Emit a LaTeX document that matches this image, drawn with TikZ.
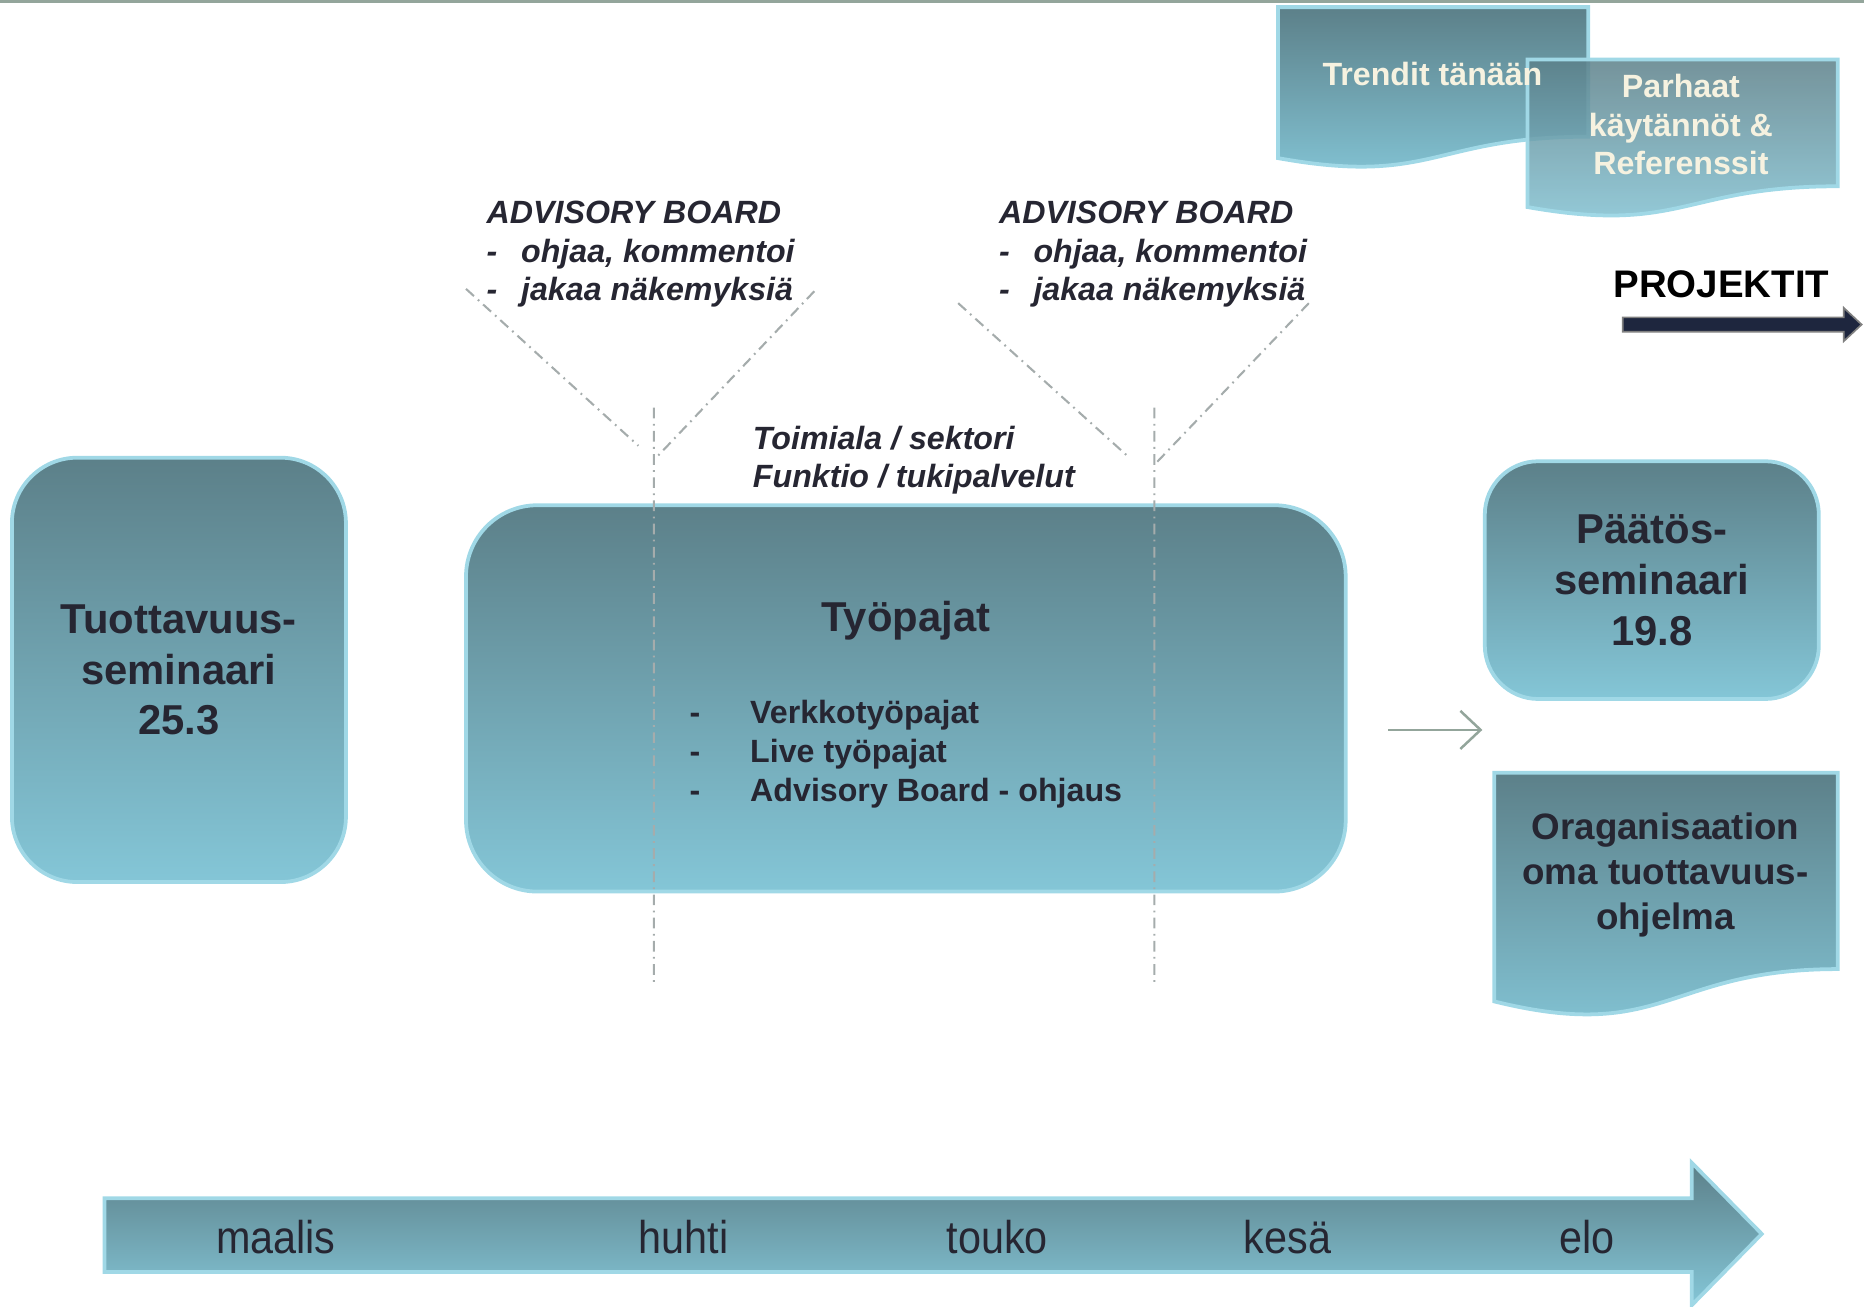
\documentclass[tikz,border=0pt]{standalone}
\usepackage{fontspec}
\setmainfont{Liberation Sans}
\newfontfamily\kuufont{Liberation Sans}[FakeStretch=0.9]
\usetikzlibrary{positioning,arrows.meta}

\definecolor{tealtop}{RGB}{92,128,137}
\definecolor{tealbot}{RGB}{132,198,215}
\definecolor{tealedge}{RGB}{160,216,230}
\definecolor{tumma}{RGB}{38,38,50}
\definecolor{kerma}{RGB}{246,242,224}
\definecolor{harmaa}{RGB}{147,165,155}
\definecolor{katko}{RGB}{165,172,172}
\definecolor{navy}{RGB}{30,38,62}

\begin{document}
\begin{tikzpicture}[x=0.1mm,y=-0.1mm,
  thick,
  seminaari/.style={
    rectangle,
    draw=tealedge,
    line width=0.9pt,
    top color=tealtop,
    bottom color=tealbot,
    text=tumma,
    align=center,
    font=\bfseries\fontsize{10}{12.2}\selectfont,
  },
  dokumentti/.style={draw=tealedge, line width=0.9pt, top color=tealtop, bottom color=tealbot},
  pajaviiva/.style={draw=katko, line width=0.5pt, dash pattern=on 0.9mm off 0.45mm on 0.15mm off 0.45mm},
  board/.style={align=left, inner sep=0pt, text=tumma, font=\bfseries\itshape\fontsize{7.7}{9.25}\selectfont},
  kuukausi/.style={text=tumma, font=\kuufont\fontsize{11}{13}\selectfont},
  ]
\useasboundingbox (0,0) rectangle (1568,1099);
\fill[harmaa] (0,0) rectangle (1568,2.5);

% seminaarit ja tyopajat
\node[seminaari, rounded corners=5.5mm, minimum width=28.1mm, minimum height=35.7mm] (tuottavuus) at (150.5,563.5) {Tuottavuus-\\seminaari\\25.3};
\node[seminaari, rounded corners=6mm, minimum width=74mm, minimum height=32.5mm] (tyopajat) at (762,587.5) {};
\node[seminaari, rounded corners=4.5mm, minimum width=28.1mm, minimum height=20mm] (paatos) at (1389.5,488) {Päätös-\\seminaari\\19.8};

\node[inner sep=0pt, text=tumma, font=\bfseries\fontsize{10}{12}\selectfont] (otsikko) at (762,522) {Työpajat};
\node[inner sep=0pt, text=tumma, align=left, font=\bfseries\fontsize{7.7}{9.25}\selectfont] (pajalista) [below=4.8mm of otsikko] {%
  \makebox[5.1mm][l]{-}Verkkotyöpajat\\
  \makebox[5.1mm][l]{-}Live työpajat\\
  \makebox[5.1mm][l]{-}Advisory Board - ohjaus};

% advisory board
\node[board, anchor=west] (board1) at (408,214) {ADVISORY BOARD\\
  \makebox[2.9mm][l]{-}ohjaa, kommentoi\\
  \makebox[2.9mm][l]{-}jakaa näkemyksiä};
\node[board, anchor=west] (board2) at (839,214) {ADVISORY BOARD\\
  \makebox[2.9mm][l]{-}ohjaa, kommentoi\\
  \makebox[2.9mm][l]{-}jakaa näkemyksiä};
\node[board, anchor=west] (toimiala) at (632,387) {Toimiala / sektori\\Funktio / tukipalvelut};

\coordinate (v1a) at (392,243);
\coordinate (v1b) at (537,375);
\coordinate (v1c) at (685,245);
\coordinate (v1d) at (552,385);
\coordinate (v1y) at (550,343);
\coordinate (v1x) at (550,830);
\coordinate (v2a) at (806,255);
\coordinate (v2b) at (950,385);
\coordinate (v2c) at (1101,255);
\coordinate (v2d) at (972,390);
\coordinate (v2y) at (971,343);
\coordinate (v2x) at (971,830);
\draw[pajaviiva] (v1a) -- (v1b) (v1c) -- (v1d) (v1y) -- (v1x);
\draw[pajaviiva] (v2a) -- (v2b) (v2c) -- (v2d) (v2y) -- (v2x);

% oikea reuna
\path[dokumentti] (1075,6) -- (1336,6) -- (1336,115)
  .. controls (1205.5,115) and (1205.5,156.5) .. (1075,133) -- cycle;
\path[dokumentti, fill opacity=0.85] (1285,50) -- (1546,50) -- (1546,156.7)
  .. controls (1415.5,156.7) and (1415.5,197.2) .. (1285,174.2) -- cycle;
\path[dokumentti] (1257,650) -- (1546,650) -- (1546,815.2)
  .. controls (1401.5,815.2) and (1401.5,878) .. (1257,842.4) -- cycle;
\node[text=kerma, font=\bfseries\fontsize{7.7}{9.25}\selectfont] (trendit) at (1205,62) {Trendit tänään};
\node[text=kerma, align=center, font=\bfseries\fontsize{7.7}{9.25}\selectfont] (parhaat) at (1414,105) {Parhaat\\käytännöt \&\\Referenssit};
\node[text=tumma, align=center, font=\bfseries\fontsize{8.8}{10.7}\selectfont] (organisaatio) at (1401,736) {Oraganisaation\\oma tuottavuus-\\ohjelma};

\node[text=black, font=\bfseries\fontsize{9.2}{11}\selectfont] (projektit) at (1448,239) {PROJEKTIT};
\filldraw[fill=navy, draw=gray, line width=0.4pt] (1365,267) -- (1551,267) -- (1551,259) -- (1566,273)
  -- (1551,287) -- (1551,279) -- (1365,279) -- cycle;

\coordinate (nuoli1) at (1168,614);
\coordinate (nuoli2) at (1247,614);
\draw[harmaa, line width=0.6pt, -{Straight Barb[length=1.7mm,width=3.2mm]}] (nuoli1) -- (nuoli2);

% aikajana
\path[dokumentti] (88,1008) -- (1423,1008) -- (1423,978) -- (1482,1038) -- (1423,1098)
  -- (1423,1070) -- (88,1070) -- cycle;
\node[kuukausi] (maalis) at (232,1041) {maalis};
\node[kuukausi] (huhti) at (575,1041) {huhti};
\node[kuukausi] (touko) at (839,1041) {touko};
\node[kuukausi] (kesa) at (1083,1041) {kesä};
\node[kuukausi] (elo) at (1335,1041) {elo};
\end{tikzpicture}
\end{document}
